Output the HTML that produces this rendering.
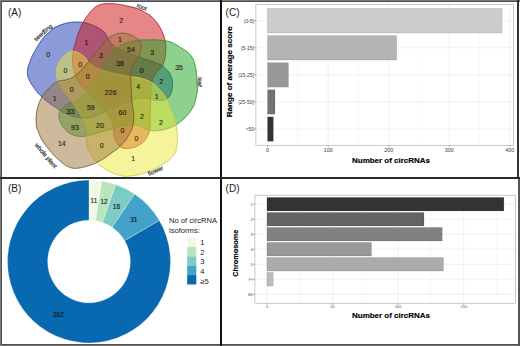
<!DOCTYPE html>
<html><head><meta charset="utf-8"><style>
html,body{margin:0;padding:0;background:#fff;}
body{width:520px;height:346px;overflow:hidden;}
svg{display:block;font-family:"Liberation Sans",sans-serif;}
.vn{font-size:7px;fill:#000;stroke:#000;stroke-width:0.12;opacity:0.82;text-anchor:middle;}
.vl{font-size:6px;fill:#444;stroke:#444;stroke-width:0.25;text-anchor:middle;}
.dl{font-size:6.4px;fill:#111;stroke:#111;stroke-width:0.1;text-anchor:middle;}
.pl{font-size:10px;fill:#1a1a1a;}
.lg{font-size:7.6px;fill:#222;}
.ttl{font-size:7.2px;font-weight:bold;fill:#000;stroke:#000;stroke-width:0.15;}
</style></head><body>
<svg width="520" height="346" viewBox="0 0 520 346">
<rect x="0" y="0" width="520" height="346" fill="#fff"/>
<!-- Panel A: Venn -->
<path d="M38.87,94.01 L38.31,93.42 L37.79,92.83 L37.30,92.25 L36.83,91.68 L36.38,91.11 L35.96,90.54 L35.54,89.98 L35.14,89.42 L34.75,88.87 L34.36,88.31 L33.98,87.76 L33.60,87.22 L33.22,86.67 L32.84,86.12 L32.47,85.58 L32.11,85.04 L31.76,84.50 L31.42,83.97 L31.09,83.44 L30.78,82.92 L30.47,82.40 L30.18,81.88 L29.91,81.37 L29.65,80.86 L29.40,80.37 L29.17,79.89 L28.95,79.42 L28.74,78.95 L28.54,78.49 L28.35,78.04 L28.19,77.58 L28.03,77.11 L27.89,76.64 L27.77,76.16 L27.67,75.66 L27.58,75.14 L27.52,74.60 L27.47,74.05 L27.44,73.48 L27.42,72.90 L27.42,72.31 L27.44,71.71 L27.47,71.11 L27.52,70.52 L27.57,69.92 L27.64,69.34 L27.72,68.76 L27.81,68.19 L27.92,67.64 L28.04,67.10 L28.18,66.56 L28.33,66.03 L28.49,65.51 L28.67,64.98 L28.85,64.46 L29.04,63.93 L29.24,63.40 L29.45,62.86 L29.66,62.31 L29.87,61.76 L30.08,61.19 L30.30,60.61 L30.53,60.03 L30.76,59.44 L31.01,58.84 L31.25,58.24 L31.51,57.64 L31.77,57.05 L32.03,56.45 L32.30,55.86 L32.58,55.27 L32.86,54.69 L33.15,54.12 L33.42,53.58 L33.70,53.05 L33.98,52.52 L34.27,52.00 L34.57,51.47 L34.88,50.94 L35.20,50.39 L35.54,49.81 L35.91,49.21 L36.29,48.58 L36.71,47.91 L37.16,47.18 L37.64,46.39 L38.15,45.56 L38.68,44.70 L39.23,43.81 L39.79,42.92 L40.37,42.02 L40.94,41.14 L41.51,40.29 L42.08,39.48 L42.63,38.72 L43.16,38.02 L43.69,37.38 L44.20,36.78 L44.72,36.21 L45.23,35.68 L45.74,35.17 L46.25,34.69 L46.75,34.22 L47.26,33.77 L47.76,33.32 L48.26,32.88 L48.77,32.44 L49.27,31.99 L49.76,31.55 L50.23,31.11 L50.68,30.69 L51.12,30.27 L51.56,29.86 L52.01,29.46 L52.47,29.07 L52.96,28.68 L53.47,28.30 L54.03,27.93 L54.63,27.56 L55.28,27.20 L56.00,26.83 L56.77,26.47 L57.59,26.11 L58.46,25.75 L59.35,25.40 L60.26,25.05 L61.19,24.72 L62.12,24.41 L63.04,24.11 L63.95,23.83 L64.84,23.57 L65.69,23.35 L66.52,23.14 L67.34,22.96 L68.15,22.80 L68.96,22.65 L69.77,22.53 L70.56,22.42 L71.36,22.32 L72.14,22.24 L72.93,22.18 L73.70,22.12 L74.48,22.08 L75.24,22.04 L76.01,22.02 L76.78,22.01 L77.55,22.02 L78.32,22.04 L79.08,22.07 L79.84,22.11 L80.58,22.17 L81.32,22.24 L82.03,22.31 L82.73,22.40 L83.41,22.49 L84.07,22.59 L84.70,22.70 L85.30,22.81 L85.87,22.94 L86.42,23.07 L86.96,23.21 L87.48,23.36 L88.00,23.53 L88.53,23.70 L89.06,23.89 L89.61,24.08 L90.17,24.29 L90.76,24.52 L91.38,24.75 L92.02,25.00 L92.68,25.26 L93.35,25.54 L94.02,25.82 L94.70,26.12 L95.38,26.42 L96.05,26.74 L96.71,27.06 L97.36,27.39 L97.98,27.73 L98.58,28.08 L99.17,28.43 L99.74,28.79 L100.31,29.15 L100.87,29.52 L101.41,29.89 L101.95,30.28 L102.47,30.68 L102.97,31.09 L103.46,31.52 L103.94,31.96 L104.39,32.42 L104.83,32.90 L105.23,33.40 L105.60,33.93 L105.93,34.48 L106.25,35.04 L106.54,35.63 L106.83,36.22 L107.11,36.82 L107.41,37.42 L107.72,38.02 L108.05,38.62 L108.41,39.21 L108.81,39.79 L109.23,40.36 L109.65,40.94 L110.08,41.52 L110.52,42.10 L110.97,42.68 L111.44,43.26 L111.94,43.84 L112.46,44.40 L113.02,44.96 L113.61,45.51 L114.25,46.04 L114.93,46.55 L115.64,47.05 L116.38,47.52 L117.15,47.98 L117.95,48.42 L118.78,48.85 L119.65,49.28 L120.55,49.71 L121.49,50.13 L122.47,50.57 L123.50,51.01 L124.58,51.47 L125.70,51.94 L126.89,52.44 L128.16,52.94 L129.49,53.46 L130.88,53.99 L132.31,54.52 L133.77,55.05 L135.24,55.59 L136.73,56.12 L138.20,56.65 L139.66,57.18 L141.09,57.69 L142.47,58.19 L143.85,58.69 L145.28,59.19 L146.73,59.69 L148.19,60.20 L149.64,60.70 L151.08,61.19 L152.47,61.67 L153.81,62.13 L155.07,62.58 L156.26,63.02 L157.34,63.43 L158.30,63.81 L159.13,64.15 L159.83,64.45 L160.43,64.71 L160.94,64.94 L161.38,65.16 L161.77,65.37 L162.12,65.59 L162.46,65.82 L162.80,66.07 L163.16,66.36 L163.56,66.70 L164.01,67.09 L164.51,67.52 L165.04,68.00 L165.57,68.50 L166.12,69.02 L166.67,69.58 L167.21,70.15 L167.74,70.74 L168.26,71.35 L168.75,71.98 L169.21,72.62 L169.63,73.26 L170.00,73.92 L170.34,74.59 L170.66,75.29 L170.94,76.01 L171.21,76.76 L171.44,77.52 L171.66,78.29 L171.85,79.06 L172.02,79.83 L172.16,80.60 L172.29,81.35 L172.39,82.09 L172.47,82.81 L172.53,83.52 L172.56,84.23 L172.57,84.93 L172.54,85.63 L172.50,86.33 L172.44,87.02 L172.36,87.70 L172.26,88.36 L172.15,89.01 L172.03,89.65 L171.91,90.26 L171.77,90.86 L171.63,91.43 L171.47,92.00 L171.31,92.56 L171.13,93.10 L170.94,93.63 L170.74,94.14 L170.52,94.63 L170.28,95.11 L170.03,95.56 L169.75,96.00 L169.46,96.41 L169.15,96.79 L168.83,97.15 L168.49,97.49 L168.13,97.81 L167.76,98.10 L167.38,98.37 L166.97,98.63 L166.55,98.86 L166.10,99.08 L165.63,99.28 L165.13,99.47 L164.61,99.64 L164.06,99.80 L163.47,99.94 L162.84,100.08 L162.18,100.19 L161.49,100.29 L160.78,100.37 L160.04,100.44 L159.30,100.49 L158.55,100.52 L157.79,100.52 L157.04,100.51 L156.30,100.47 L155.57,100.42 L154.85,100.32 L154.13,100.17 L153.42,99.98 L152.70,99.76 L151.98,99.52 L151.25,99.27 L150.52,99.02 L149.79,98.78 L149.06,98.56 L148.31,98.36 L147.56,98.21 L146.81,98.11 L146.04,98.04 L145.26,98.00 L144.46,97.98 L143.66,97.99 L142.85,98.01 L142.05,98.05 L141.24,98.10 L140.43,98.17 L139.64,98.26 L138.85,98.36 L138.07,98.47 L137.32,98.60 L136.61,98.72 L135.96,98.84 L135.37,98.97 L134.80,99.10 L134.23,99.25 L133.66,99.42 L133.05,99.62 L132.39,99.84 L131.65,100.11 L130.82,100.42 L129.87,100.78 L128.80,101.19 L127.55,101.68 L126.14,102.24 L124.60,102.86 L122.96,103.54 L121.24,104.25 L119.47,104.98 L117.70,105.73 L115.94,106.49 L114.22,107.22 L112.58,107.94 L111.04,108.61 L109.64,109.24 L108.36,109.83 L107.15,110.43 L106.01,111.02 L104.92,111.60 L103.87,112.17 L102.86,112.72 L101.88,113.25 L100.92,113.76 L99.97,114.24 L99.01,114.70 L98.05,115.12 L97.06,115.50 L96.08,115.86 L95.13,116.19 L94.19,116.49 L93.26,116.77 L92.35,117.03 L91.43,117.25 L90.52,117.45 L89.60,117.62 L88.67,117.76 L87.72,117.87 L86.75,117.95 L85.75,118.00 L84.71,118.01 L83.65,117.99 L82.56,117.93 L81.44,117.83 L80.32,117.71 L79.19,117.56 L78.07,117.39 L76.95,117.20 L75.85,116.98 L74.77,116.75 L73.72,116.51 L72.71,116.25 L71.72,115.97 L70.73,115.65 L69.74,115.29 L68.77,114.91 L67.81,114.52 L66.87,114.10 L65.96,113.69 L65.08,113.27 L64.24,112.85 L63.43,112.45 L62.67,112.07 L61.97,111.71 L61.34,111.38 L60.78,111.07 L60.30,110.78 L59.87,110.50 L59.47,110.23 L59.09,109.95 L58.72,109.67 L58.34,109.38 L57.93,109.07 L57.49,108.73 L56.98,108.36 L56.41,107.96 L55.77,107.52 L55.08,107.06 L54.36,106.57 L53.59,106.06 L52.81,105.53 L52.01,104.98 L51.19,104.43 L50.38,103.86 L49.57,103.28 L48.77,102.70 L47.99,102.12 L47.25,101.54 L46.51,100.94 L45.77,100.34 L45.02,99.71 L44.28,99.08 L43.54,98.44 L42.81,97.80 L42.10,97.15 L41.40,96.51 L40.72,95.87 L40.07,95.24 L39.45,94.62Z" fill="rgb(25,55,175)" fill-opacity="0.5" stroke="rgb(45,70,165)" stroke-width="1.0"/>
<path d="M82.90,22.60 L83.29,21.88 L83.68,21.20 L84.08,20.54 L84.48,19.91 L84.88,19.30 L85.28,18.71 L85.68,18.14 L86.09,17.58 L86.49,17.03 L86.90,16.48 L87.30,15.94 L87.70,15.40 L88.10,14.86 L88.50,14.33 L88.90,13.80 L89.30,13.29 L89.70,12.78 L90.10,12.29 L90.50,11.80 L90.90,11.33 L91.30,10.88 L91.70,10.43 L92.10,10.01 L92.50,9.60 L92.89,9.21 L93.28,8.83 L93.66,8.47 L94.03,8.12 L94.40,7.78 L94.78,7.46 L95.17,7.15 L95.56,6.86 L95.97,6.58 L96.39,6.31 L96.83,6.05 L97.30,5.80 L97.79,5.56 L98.31,5.34 L98.84,5.13 L99.39,4.93 L99.95,4.74 L100.53,4.57 L101.11,4.41 L101.69,4.26 L102.27,4.12 L102.86,4.00 L103.43,3.89 L104.00,3.80 L104.56,3.72 L105.12,3.67 L105.67,3.62 L106.23,3.60 L106.78,3.59 L107.34,3.59 L107.90,3.60 L108.46,3.61 L109.03,3.63 L109.61,3.65 L110.20,3.68 L110.80,3.70 L111.41,3.72 L112.03,3.75 L112.66,3.78 L113.30,3.81 L113.94,3.85 L114.59,3.90 L115.25,3.95 L115.90,4.01 L116.55,4.07 L117.21,4.14 L117.86,4.22 L118.50,4.30 L119.13,4.39 L119.74,4.48 L120.34,4.58 L120.93,4.68 L121.52,4.79 L122.11,4.90 L122.72,5.02 L123.35,5.16 L124.01,5.30 L124.70,5.45 L125.43,5.62 L126.20,5.80 L127.04,5.99 L127.94,6.20 L128.90,6.42 L129.89,6.66 L130.91,6.90 L131.95,7.15 L132.99,7.41 L134.01,7.68 L135.00,7.95 L135.96,8.23 L136.86,8.51 L137.70,8.80 L138.48,9.09 L139.22,9.39 L139.92,9.70 L140.59,10.02 L141.24,10.35 L141.86,10.67 L142.47,11.01 L143.06,11.34 L143.65,11.68 L144.23,12.02 L144.81,12.36 L145.40,12.70 L145.98,13.03 L146.55,13.33 L147.10,13.62 L147.64,13.91 L148.17,14.20 L148.69,14.50 L149.22,14.82 L149.74,15.16 L150.27,15.53 L150.80,15.94 L151.34,16.39 L151.90,16.90 L152.47,17.47 L153.07,18.09 L153.68,18.76 L154.30,19.47 L154.92,20.21 L155.54,20.97 L156.15,21.75 L156.75,22.53 L157.33,23.32 L157.88,24.10 L158.41,24.86 L158.90,25.60 L159.36,26.33 L159.80,27.05 L160.21,27.78 L160.61,28.50 L160.98,29.23 L161.34,29.96 L161.69,30.68 L162.01,31.41 L162.33,32.13 L162.63,32.86 L162.92,33.58 L163.20,34.30 L163.47,35.03 L163.72,35.76 L163.96,36.49 L164.19,37.23 L164.40,37.97 L164.60,38.71 L164.78,39.44 L164.96,40.16 L165.11,40.86 L165.26,41.56 L165.38,42.24 L165.50,42.90 L165.60,43.53 L165.68,44.14 L165.74,44.73 L165.79,45.29 L165.83,45.85 L165.85,46.40 L165.86,46.95 L165.86,47.51 L165.86,48.07 L165.84,48.66 L165.82,49.27 L165.80,49.90 L165.77,50.56 L165.74,51.25 L165.70,51.96 L165.65,52.69 L165.60,53.43 L165.53,54.17 L165.46,54.91 L165.37,55.66 L165.27,56.39 L165.16,57.11 L165.04,57.82 L164.90,58.50 L164.75,59.17 L164.60,59.83 L164.43,60.49 L164.26,61.14 L164.07,61.78 L163.88,62.41 L163.66,63.04 L163.43,63.65 L163.18,64.26 L162.91,64.85 L162.62,65.43 L162.30,66.00 L161.95,66.55 L161.56,67.06 L161.15,67.56 L160.70,68.04 L160.24,68.51 L159.77,68.97 L159.29,69.43 L158.81,69.91 L158.33,70.39 L157.87,70.90 L157.42,71.43 L157.00,72.00 L156.59,72.58 L156.17,73.17 L155.75,73.77 L155.34,74.37 L154.93,74.99 L154.53,75.62 L154.14,76.28 L153.76,76.96 L153.41,77.67 L153.08,78.41 L152.77,79.19 L152.50,80.00 L152.26,80.84 L152.04,81.70 L151.85,82.58 L151.69,83.48 L151.54,84.41 L151.41,85.38 L151.29,86.37 L151.18,87.41 L151.08,88.48 L150.99,89.61 L150.89,90.78 L150.80,92.00 L150.71,93.29 L150.63,94.67 L150.57,96.10 L150.51,97.60 L150.46,99.13 L150.41,100.69 L150.37,102.27 L150.34,103.86 L150.30,105.44 L150.27,106.99 L150.24,108.52 L150.20,110.00 L150.17,111.48 L150.14,113.00 L150.13,114.55 L150.11,116.10 L150.10,117.65 L150.09,119.17 L150.08,120.65 L150.06,122.08 L150.04,123.43 L150.00,124.70 L149.96,125.86 L149.90,126.90 L149.84,127.80 L149.78,128.57 L149.72,129.22 L149.66,129.79 L149.60,130.27 L149.52,130.71 L149.43,131.12 L149.31,131.51 L149.18,131.92 L149.02,132.36 L148.83,132.84 L148.60,133.40 L148.34,134.02 L148.06,134.67 L147.75,135.34 L147.43,136.03 L147.07,136.73 L146.70,137.43 L146.30,138.13 L145.89,138.81 L145.45,139.48 L144.98,140.12 L144.50,140.73 L144.00,141.30 L143.47,141.84 L142.90,142.36 L142.30,142.87 L141.67,143.36 L141.02,143.83 L140.36,144.28 L139.68,144.70 L139.00,145.11 L138.31,145.50 L137.63,145.86 L136.96,146.19 L136.30,146.50 L135.64,146.78 L134.98,147.04 L134.31,147.27 L133.63,147.47 L132.95,147.65 L132.28,147.81 L131.60,147.95 L130.94,148.07 L130.28,148.18 L129.64,148.27 L129.01,148.34 L128.40,148.40 L127.80,148.45 L127.21,148.48 L126.63,148.50 L126.06,148.51 L125.49,148.49 L124.94,148.46 L124.40,148.41 L123.87,148.34 L123.35,148.24 L122.85,148.12 L122.37,147.97 L121.90,147.80 L121.45,147.60 L121.02,147.39 L120.61,147.15 L120.21,146.89 L119.82,146.61 L119.45,146.31 L119.09,145.98 L118.74,145.62 L118.39,145.23 L118.06,144.82 L117.73,144.38 L117.40,143.90 L117.07,143.39 L116.75,142.83 L116.43,142.23 L116.11,141.61 L115.80,140.95 L115.51,140.28 L115.22,139.58 L114.96,138.87 L114.71,138.15 L114.48,137.43 L114.28,136.71 L114.10,136.00 L113.96,135.28 L113.88,134.55 L113.83,133.80 L113.81,133.05 L113.81,132.28 L113.81,131.51 L113.82,130.74 L113.81,129.96 L113.79,129.19 L113.74,128.42 L113.64,127.66 L113.50,126.90 L113.32,126.15 L113.10,125.39 L112.87,124.62 L112.61,123.86 L112.33,123.10 L112.04,122.34 L111.73,121.58 L111.40,120.84 L111.06,120.11 L110.72,119.39 L110.36,118.69 L110.00,118.00 L109.65,117.36 L109.33,116.79 L109.02,116.26 L108.71,115.76 L108.39,115.27 L108.04,114.78 L107.66,114.26 L107.23,113.70 L106.74,113.08 L106.18,112.38 L105.54,111.60 L104.80,110.70 L103.94,109.67 L102.95,108.50 L101.87,107.23 L100.70,105.88 L99.47,104.47 L98.20,103.02 L96.92,101.56 L95.64,100.12 L94.38,98.72 L93.18,97.38 L92.04,96.14 L91.00,95.00 L90.02,93.97 L89.07,93.00 L88.14,92.10 L87.24,91.24 L86.36,90.43 L85.51,89.64 L84.69,88.88 L83.90,88.12 L83.13,87.37 L82.39,86.60 L81.68,85.82 L81.00,85.00 L80.35,84.18 L79.73,83.37 L79.14,82.57 L78.57,81.78 L78.04,80.99 L77.53,80.19 L77.05,79.38 L76.59,78.56 L76.16,77.71 L75.75,76.84 L75.36,75.94 L75.00,75.00 L74.66,74.02 L74.34,72.99 L74.05,71.93 L73.78,70.84 L73.54,69.73 L73.32,68.61 L73.12,67.48 L72.95,66.35 L72.80,65.23 L72.68,64.13 L72.58,63.05 L72.50,62.00 L72.45,60.96 L72.44,59.91 L72.46,58.86 L72.51,57.81 L72.59,56.77 L72.68,55.74 L72.79,54.74 L72.91,53.77 L73.03,52.83 L73.16,51.93 L73.28,51.09 L73.40,50.30 L73.51,49.59 L73.63,48.97 L73.75,48.41 L73.88,47.91 L74.02,47.44 L74.16,46.99 L74.31,46.55 L74.46,46.09 L74.63,45.61 L74.81,45.07 L75.00,44.48 L75.20,43.80 L75.41,43.05 L75.64,42.24 L75.87,41.39 L76.11,40.50 L76.37,39.58 L76.63,38.64 L76.90,37.69 L77.19,36.73 L77.48,35.77 L77.78,34.83 L78.08,33.90 L78.40,33.00 L78.73,32.11 L79.07,31.21 L79.43,30.30 L79.79,29.39 L80.17,28.48 L80.55,27.58 L80.94,26.69 L81.33,25.81 L81.72,24.97 L82.12,24.14 L82.51,23.35Z" fill="rgb(205,15,15)" fill-opacity="0.5" stroke="rgb(165,40,60)" stroke-width="1.0"/>
<path d="M168.20,41.40 L168.98,41.60 L169.73,41.82 L170.45,42.05 L171.14,42.30 L171.80,42.56 L172.45,42.84 L173.08,43.13 L173.69,43.43 L174.28,43.73 L174.87,44.04 L175.45,44.36 L176.02,44.68 L176.60,45.00 L177.16,45.33 L177.72,45.66 L178.26,45.99 L178.80,46.33 L179.33,46.66 L179.86,46.99 L180.37,47.32 L180.88,47.65 L181.37,47.97 L181.86,48.29 L182.33,48.61 L182.80,48.91 L183.25,49.21 L183.70,49.49 L184.13,49.76 L184.56,50.03 L184.98,50.30 L185.39,50.57 L185.80,50.85 L186.21,51.13 L186.61,51.43 L187.02,51.75 L187.42,52.08 L187.83,52.43 L188.23,52.80 L188.64,53.19 L189.04,53.58 L189.43,53.99 L189.82,54.41 L190.20,54.84 L190.57,55.28 L190.93,55.72 L191.27,56.16 L191.59,56.60 L191.90,57.05 L192.18,57.50 L192.44,57.95 L192.68,58.41 L192.91,58.88 L193.12,59.35 L193.31,59.84 L193.50,60.33 L193.68,60.84 L193.85,61.35 L194.02,61.88 L194.19,62.42 L194.36,62.97 L194.53,63.53 L194.70,64.11 L194.87,64.71 L195.03,65.31 L195.19,65.93 L195.34,66.55 L195.49,67.18 L195.63,67.82 L195.76,68.46 L195.89,69.10 L196.00,69.74 L196.11,70.38 L196.21,71.01 L196.30,71.62 L196.38,72.23 L196.45,72.82 L196.52,73.42 L196.58,74.03 L196.63,74.65 L196.69,75.29 L196.74,75.97 L196.79,76.67 L196.84,77.42 L196.88,78.22 L196.94,79.09 L196.99,80.02 L197.06,81.00 L197.12,82.03 L197.18,83.08 L197.23,84.15 L197.28,85.23 L197.31,86.29 L197.33,87.33 L197.34,88.33 L197.32,89.28 L197.29,90.17 L197.23,91.01 L197.15,91.80 L197.05,92.57 L196.94,93.31 L196.81,94.03 L196.67,94.72 L196.52,95.40 L196.37,96.07 L196.21,96.73 L196.05,97.39 L195.89,98.05 L195.73,98.71 L195.59,99.37 L195.45,100.00 L195.33,100.62 L195.21,101.22 L195.08,101.81 L194.94,102.41 L194.79,103.00 L194.61,103.60 L194.40,104.22 L194.16,104.85 L193.88,105.50 L193.54,106.18 L193.16,106.90 L192.73,107.65 L192.26,108.43 L191.76,109.23 L191.22,110.04 L190.66,110.86 L190.09,111.67 L189.50,112.47 L188.91,113.26 L188.32,114.02 L187.73,114.74 L187.16,115.43 L186.59,116.08 L186.02,116.71 L185.44,117.32 L184.85,117.91 L184.26,118.48 L183.66,119.03 L183.06,119.57 L182.45,120.10 L181.85,120.61 L181.23,121.10 L180.62,121.59 L180.00,122.07 L179.38,122.53 L178.75,122.99 L178.11,123.43 L177.46,123.86 L176.81,124.28 L176.16,124.68 L175.51,125.07 L174.86,125.44 L174.22,125.79 L173.59,126.13 L172.97,126.45 L172.37,126.75 L171.79,127.03 L171.23,127.28 L170.68,127.51 L170.15,127.72 L169.62,127.91 L169.10,128.09 L168.57,128.26 L168.03,128.42 L167.48,128.58 L166.92,128.73 L166.32,128.89 L165.71,129.04 L165.06,129.21 L164.38,129.37 L163.69,129.54 L162.97,129.70 L162.25,129.86 L161.51,130.01 L160.77,130.15 L160.03,130.28 L159.30,130.40 L158.57,130.50 L157.85,130.58 L157.16,130.64 L156.47,130.69 L155.79,130.73 L155.11,130.76 L154.43,130.78 L153.76,130.78 L153.09,130.77 L152.43,130.75 L151.77,130.70 L151.11,130.63 L150.46,130.54 L149.82,130.43 L149.18,130.28 L148.55,130.10 L147.94,129.88 L147.35,129.62 L146.76,129.33 L146.17,129.02 L145.59,128.69 L145.00,128.36 L144.41,128.04 L143.80,127.72 L143.18,127.41 L142.54,127.14 L141.87,126.89 L141.19,126.66 L140.51,126.43 L139.81,126.20 L139.11,125.97 L138.40,125.75 L137.67,125.54 L136.92,125.36 L136.16,125.19 L135.38,125.05 L134.57,124.95 L133.73,124.88 L132.87,124.85 L131.99,124.85 L131.10,124.89 L130.20,124.96 L129.28,125.06 L128.34,125.18 L127.37,125.33 L126.38,125.50 L125.35,125.70 L124.28,125.91 L123.17,126.14 L122.02,126.39 L120.81,126.64 L119.54,126.93 L118.19,127.25 L116.79,127.59 L115.33,127.97 L113.84,128.36 L112.32,128.76 L110.78,129.18 L109.24,129.60 L107.71,130.02 L106.20,130.43 L104.72,130.83 L103.28,131.22 L101.85,131.62 L100.37,132.03 L98.88,132.46 L97.38,132.89 L95.88,133.32 L94.41,133.75 L92.98,134.16 L91.60,134.55 L90.28,134.92 L89.05,135.25 L87.92,135.54 L86.90,135.78 L86.01,135.98 L85.26,136.14 L84.61,136.27 L84.05,136.38 L83.56,136.45 L83.12,136.50 L82.70,136.53 L82.28,136.54 L81.85,136.52 L81.39,136.49 L80.86,136.45 L80.26,136.39 L79.59,136.32 L78.88,136.23 L78.15,136.13 L77.39,136.01 L76.61,135.87 L75.83,135.71 L75.04,135.53 L74.26,135.32 L73.49,135.09 L72.74,134.83 L72.02,134.54 L71.32,134.21 L70.65,133.86 L69.99,133.46 L69.33,133.02 L68.67,132.56 L68.04,132.07 L67.41,131.55 L66.80,131.02 L66.22,130.48 L65.65,129.93 L65.11,129.38 L64.59,128.83 L64.10,128.28 L63.64,127.73 L63.21,127.16 L62.79,126.58 L62.40,125.98 L62.03,125.38 L61.68,124.77 L61.36,124.17 L61.05,123.56 L60.76,122.96 L60.49,122.36 L60.24,121.78 L60.01,121.21 L59.79,120.64 L59.59,120.09 L59.40,119.53 L59.23,118.98 L59.08,118.43 L58.96,117.89 L58.85,117.35 L58.77,116.82 L58.71,116.29 L58.69,115.78 L58.69,115.27 L58.72,114.77 L58.78,114.28 L58.87,113.80 L58.98,113.33 L59.11,112.87 L59.27,112.42 L59.46,111.98 L59.68,111.53 L59.92,111.09 L60.19,110.65 L60.50,110.21 L60.83,109.76 L61.19,109.31 L61.60,108.85 L62.04,108.38 L62.52,107.89 L63.04,107.41 L63.58,106.93 L64.15,106.45 L64.74,105.97 L65.34,105.51 L65.96,105.07 L66.59,104.64 L67.23,104.24 L67.87,103.86 L68.52,103.53 L69.20,103.23 L69.91,102.97 L70.63,102.74 L71.37,102.51 L72.11,102.30 L72.86,102.09 L73.61,101.86 L74.35,101.61 L75.07,101.34 L75.78,101.03 L76.47,100.68 L77.14,100.28 L77.82,99.86 L78.48,99.42 L79.15,98.95 L79.80,98.46 L80.45,97.96 L81.09,97.44 L81.71,96.92 L82.32,96.38 L82.92,95.84 L83.49,95.30 L84.05,94.75 L84.56,94.24 L85.03,93.76 L85.45,93.31 L85.84,92.87 L86.22,92.42 L86.60,91.94 L86.99,91.43 L87.41,90.85 L87.86,90.20 L88.37,89.46 L88.94,88.62 L89.60,87.65 L90.35,86.52 L91.19,85.24 L92.10,83.82 L93.07,82.31 L94.08,80.72 L95.11,79.08 L96.15,77.43 L97.17,75.78 L98.16,74.17 L99.11,72.63 L99.99,71.17 L100.78,69.84 L101.50,68.60 L102.15,67.40 L102.76,66.25 L103.33,65.14 L103.86,64.06 L104.38,63.01 L104.88,62.00 L105.38,61.02 L105.89,60.06 L106.42,59.13 L106.97,58.22 L107.56,57.33 L108.17,56.47 L108.77,55.64 L109.37,54.84 L109.97,54.07 L110.58,53.33 L111.21,52.61 L111.85,51.91 L112.51,51.24 L113.20,50.58 L113.92,49.93 L114.68,49.30 L115.48,48.68 L116.33,48.07 L117.23,47.47 L118.17,46.88 L119.15,46.31 L120.15,45.76 L121.17,45.23 L122.20,44.72 L123.24,44.23 L124.28,43.76 L125.30,43.33 L126.32,42.92 L127.30,42.54 L128.29,42.20 L129.30,41.89 L130.32,41.61 L131.35,41.36 L132.37,41.13 L133.39,40.93 L134.39,40.74 L135.36,40.58 L136.30,40.43 L137.20,40.30 L138.05,40.17 L138.84,40.06 L139.56,39.97 L140.20,39.90 L140.77,39.86 L141.29,39.84 L141.78,39.83 L142.25,39.84 L142.72,39.86 L143.20,39.88 L143.72,39.90 L144.29,39.92 L144.92,39.93 L145.63,39.93 L146.41,39.92 L147.25,39.91 L148.14,39.89 L149.07,39.87 L150.03,39.85 L151.01,39.84 L152.01,39.82 L153.01,39.82 L154.02,39.83 L155.02,39.85 L156.00,39.88 L156.96,39.93 L157.91,39.99 L158.88,40.06 L159.85,40.14 L160.84,40.24 L161.82,40.34 L162.79,40.46 L163.76,40.59 L164.70,40.73 L165.62,40.88 L166.52,41.04 L167.38,41.21Z" fill="rgb(29,161,29)" fill-opacity="0.5" stroke="rgb(50,145,55)" stroke-width="1.0"/>
<path d="M176.99,130.47 L177.10,131.28 L177.19,132.08 L177.26,132.85 L177.31,133.60 L177.34,134.34 L177.36,135.06 L177.38,135.77 L177.38,136.46 L177.38,137.15 L177.37,137.84 L177.37,138.52 L177.36,139.20 L177.35,139.88 L177.35,140.55 L177.33,141.22 L177.31,141.88 L177.29,142.53 L177.25,143.17 L177.22,143.80 L177.17,144.42 L177.11,145.04 L177.05,145.63 L176.98,146.22 L176.89,146.79 L176.81,147.35 L176.72,147.88 L176.63,148.40 L176.53,148.91 L176.42,149.41 L176.30,149.89 L176.17,150.37 L176.03,150.85 L175.86,151.32 L175.68,151.79 L175.47,152.27 L175.24,152.75 L174.98,153.23 L174.69,153.72 L174.38,154.21 L174.05,154.70 L173.70,155.19 L173.34,155.67 L172.96,156.15 L172.57,156.62 L172.18,157.08 L171.77,157.52 L171.37,157.95 L170.96,158.37 L170.55,158.77 L170.13,159.14 L169.70,159.51 L169.26,159.86 L168.82,160.20 L168.36,160.53 L167.90,160.86 L167.43,161.18 L166.95,161.50 L166.46,161.83 L165.97,162.16 L165.47,162.50 L164.96,162.84 L164.43,163.19 L163.90,163.54 L163.36,163.89 L162.81,164.24 L162.25,164.59 L161.69,164.94 L161.12,165.28 L160.55,165.62 L159.98,165.95 L159.40,166.27 L158.83,166.59 L158.26,166.89 L157.71,167.18 L157.16,167.46 L156.62,167.72 L156.08,167.99 L155.52,168.25 L154.95,168.51 L154.36,168.78 L153.74,169.05 L153.08,169.34 L152.39,169.63 L151.65,169.95 L150.85,170.29 L149.99,170.65 L149.08,171.04 L148.12,171.45 L147.15,171.86 L146.15,172.27 L145.15,172.67 L144.16,173.06 L143.18,173.43 L142.24,173.77 L141.33,174.08 L140.48,174.34 L139.67,174.57 L138.88,174.76 L138.13,174.92 L137.39,175.07 L136.67,175.19 L135.96,175.29 L135.27,175.38 L134.58,175.46 L133.91,175.53 L133.23,175.60 L132.55,175.67 L131.87,175.74 L131.20,175.82 L130.56,175.91 L129.93,176.00 L129.32,176.08 L128.72,176.16 L128.11,176.23 L127.50,176.29 L126.87,176.32 L126.21,176.33 L125.54,176.31 L124.82,176.27 L124.07,176.18 L123.26,176.06 L122.40,175.91 L121.51,175.72 L120.58,175.51 L119.63,175.28 L118.67,175.02 L117.71,174.75 L116.76,174.47 L115.81,174.17 L114.90,173.87 L114.01,173.56 L113.17,173.25 L112.37,172.93 L111.58,172.59 L110.81,172.25 L110.05,171.89 L109.31,171.52 L108.59,171.14 L107.88,170.76 L107.18,170.36 L106.49,169.95 L105.81,169.54 L105.14,169.13 L104.49,168.70 L103.84,168.27 L103.19,167.82 L102.56,167.37 L101.93,166.90 L101.32,166.42 L100.72,165.94 L100.14,165.45 L99.57,164.97 L99.02,164.48 L98.49,164.00 L97.98,163.52 L97.49,163.05 L97.03,162.59 L96.61,162.15 L96.21,161.71 L95.83,161.27 L95.47,160.84 L95.12,160.40 L94.79,159.96 L94.45,159.51 L94.12,159.04 L93.78,158.55 L93.44,158.05 L93.08,157.52 L92.71,156.96 L92.33,156.38 L91.94,155.77 L91.54,155.15 L91.15,154.52 L90.76,153.87 L90.38,153.22 L90.01,152.56 L89.65,151.91 L89.31,151.25 L88.99,150.60 L88.70,149.96 L88.42,149.33 L88.15,148.69 L87.90,148.06 L87.65,147.43 L87.42,146.79 L87.21,146.16 L87.01,145.52 L86.83,144.88 L86.68,144.24 L86.54,143.59 L86.44,142.94 L86.36,142.29 L86.32,141.64 L86.33,140.99 L86.37,140.33 L86.45,139.68 L86.55,139.02 L86.66,138.36 L86.77,137.70 L86.88,137.02 L86.98,136.34 L87.06,135.65 L87.10,134.95 L87.11,134.24 L87.10,133.52 L87.09,132.79 L87.08,132.06 L87.06,131.32 L87.03,130.57 L86.98,129.81 L86.90,129.04 L86.80,128.26 L86.67,127.47 L86.50,126.67 L86.29,125.86 L86.03,125.03 L85.72,124.20 L85.39,123.37 L85.02,122.54 L84.62,121.71 L84.19,120.86 L83.72,119.99 L83.22,119.11 L82.69,118.20 L82.13,117.26 L81.54,116.29 L80.92,115.28 L80.27,114.23 L79.58,113.12 L78.82,111.95 L78.02,110.74 L77.18,109.48 L76.31,108.20 L75.41,106.90 L74.51,105.59 L73.59,104.27 L72.68,102.96 L71.78,101.67 L70.90,100.41 L70.05,99.18 L69.20,97.95 L68.31,96.69 L67.40,95.42 L66.49,94.15 L65.58,92.88 L64.68,91.63 L63.81,90.41 L62.97,89.24 L62.19,88.12 L61.46,87.06 L60.81,86.09 L60.24,85.20 L59.75,84.43 L59.34,83.77 L59.00,83.20 L58.71,82.71 L58.48,82.27 L58.28,81.86 L58.11,81.48 L57.97,81.09 L57.84,80.68 L57.71,80.23 L57.58,79.71 L57.43,79.12 L57.27,78.47 L57.12,77.77 L56.97,77.04 L56.82,76.28 L56.70,75.50 L56.58,74.70 L56.49,73.90 L56.42,73.09 L56.39,72.28 L56.38,71.48 L56.41,70.70 L56.48,69.94 L56.60,69.18 L56.75,68.42 L56.94,67.65 L57.16,66.87 L57.41,66.10 L57.69,65.34 L57.99,64.59 L58.30,63.85 L58.63,63.13 L58.97,62.43 L59.32,61.76 L59.68,61.11 L60.04,60.49 L60.43,59.89 L60.85,59.30 L61.28,58.73 L61.72,58.18 L62.18,57.65 L62.64,57.13 L63.12,56.64 L63.59,56.16 L64.06,55.71 L64.53,55.27 L64.99,54.86 L65.45,54.47 L65.91,54.09 L66.38,53.72 L66.84,53.38 L67.31,53.05 L67.78,52.75 L68.26,52.47 L68.73,52.21 L69.21,51.99 L69.69,51.79 L70.17,51.62 L70.66,51.48 L71.14,51.37 L71.62,51.29 L72.10,51.24 L72.58,51.21 L73.06,51.22 L73.54,51.24 L74.04,51.30 L74.54,51.38 L75.04,51.49 L75.57,51.63 L76.10,51.79 L76.65,51.99 L77.22,52.21 L77.82,52.47 L78.43,52.77 L79.07,53.09 L79.71,53.44 L80.35,53.82 L81.00,54.22 L81.64,54.64 L82.27,55.08 L82.88,55.53 L83.48,55.99 L84.04,56.47 L84.58,56.98 L85.09,57.52 L85.57,58.10 L86.04,58.71 L86.50,59.33 L86.95,59.96 L87.40,60.60 L87.87,61.23 L88.35,61.85 L88.85,62.44 L89.38,63.01 L89.95,63.54 L90.55,64.05 L91.17,64.54 L91.82,65.02 L92.48,65.50 L93.17,65.95 L93.86,66.40 L94.56,66.82 L95.27,67.24 L95.98,67.64 L96.69,68.02 L97.40,68.38 L98.10,68.72 L98.76,69.04 L99.37,69.32 L99.94,69.56 L100.49,69.79 L101.04,69.99 L101.62,70.19 L102.24,70.39 L102.92,70.59 L103.69,70.80 L104.56,71.04 L105.55,71.30 L106.69,71.59 L108.01,71.92 L109.51,72.28 L111.15,72.67 L112.91,73.08 L114.75,73.50 L116.65,73.93 L118.56,74.35 L120.47,74.77 L122.32,75.17 L124.10,75.54 L125.77,75.89 L127.30,76.19 L128.71,76.45 L130.06,76.67 L131.36,76.86 L132.60,77.02 L133.80,77.16 L134.96,77.30 L136.09,77.43 L137.19,77.58 L138.26,77.74 L139.32,77.92 L140.37,78.14 L141.41,78.40 L142.43,78.69 L143.42,78.98 L144.38,79.28 L145.31,79.59 L146.22,79.92 L147.11,80.27 L147.98,80.64 L148.84,81.04 L149.70,81.47 L150.55,81.94 L151.40,82.45 L152.26,82.99 L153.12,83.59 L153.99,84.24 L154.86,84.93 L155.73,85.66 L156.59,86.43 L157.44,87.21 L158.27,88.02 L159.08,88.84 L159.87,89.66 L160.62,90.49 L161.35,91.31 L162.04,92.12 L162.69,92.94 L163.32,93.79 L163.93,94.66 L164.52,95.55 L165.08,96.44 L165.61,97.33 L166.12,98.22 L166.60,99.08 L167.06,99.92 L167.49,100.73 L167.89,101.49 L168.26,102.20 L168.59,102.85 L168.87,103.43 L169.10,103.96 L169.30,104.44 L169.46,104.90 L169.61,105.35 L169.76,105.80 L169.90,106.27 L170.05,106.77 L170.23,107.31 L170.43,107.91 L170.66,108.58 L170.94,109.32 L171.23,110.11 L171.55,110.94 L171.88,111.82 L172.22,112.72 L172.56,113.64 L172.91,114.58 L173.25,115.53 L173.58,116.49 L173.90,117.44 L174.20,118.38 L174.48,119.30 L174.74,120.22 L175.00,121.16 L175.25,122.12 L175.49,123.08 L175.73,124.04 L175.95,125.01 L176.16,125.96 L176.36,126.91 L176.55,127.84 L176.71,128.74 L176.86,129.62Z" fill="rgb(235,231,55)" fill-opacity="0.5" stroke="rgb(210,205,75)" stroke-width="1.0"/>
<path d="M94.04,163.76 L93.29,164.09 L92.57,164.38 L91.85,164.65 L91.15,164.90 L90.47,165.14 L89.79,165.35 L89.12,165.55 L88.46,165.75 L87.81,165.93 L87.16,166.11 L86.51,166.29 L85.87,166.47 L85.23,166.64 L84.59,166.81 L83.95,166.98 L83.32,167.14 L82.70,167.29 L82.08,167.43 L81.47,167.57 L80.87,167.69 L80.28,167.81 L79.70,167.91 L79.12,168.00 L78.56,168.07 L78.01,168.14 L77.48,168.20 L76.96,168.25 L76.45,168.29 L75.95,168.33 L75.46,168.35 L74.97,168.35 L74.48,168.34 L73.99,168.32 L73.49,168.27 L72.99,168.20 L72.47,168.11 L71.94,167.99 L71.40,167.85 L70.86,167.69 L70.30,167.51 L69.75,167.31 L69.19,167.10 L68.64,166.87 L68.09,166.63 L67.55,166.38 L67.02,166.12 L66.50,165.85 L66.00,165.57 L65.51,165.29 L65.04,165.00 L64.58,164.69 L64.13,164.37 L63.69,164.04 L63.25,163.70 L62.82,163.35 L62.39,162.99 L61.95,162.62 L61.51,162.25 L61.07,161.87 L60.61,161.49 L60.15,161.10 L59.68,160.70 L59.20,160.29 L58.72,159.87 L58.24,159.44 L57.76,159.01 L57.28,158.57 L56.80,158.13 L56.33,157.68 L55.86,157.22 L55.40,156.77 L54.95,156.31 L54.51,155.85 L54.09,155.41 L53.68,154.97 L53.28,154.53 L52.88,154.08 L52.48,153.63 L52.08,153.16 L51.67,152.67 L51.24,152.15 L50.80,151.61 L50.33,151.03 L49.83,150.42 L49.30,149.75 L48.72,149.04 L48.10,148.28 L47.46,147.49 L46.81,146.67 L46.15,145.84 L45.50,145.00 L44.87,144.17 L44.25,143.34 L43.68,142.54 L43.14,141.76 L42.66,141.03 L42.23,140.32 L41.84,139.63 L41.48,138.96 L41.14,138.30 L40.84,137.65 L40.55,137.01 L40.28,136.38 L40.02,135.75 L39.77,135.13 L39.52,134.51 L39.27,133.88 L39.02,133.26 L38.76,132.65 L38.50,132.06 L38.25,131.50 L38.01,130.94 L37.77,130.39 L37.54,129.83 L37.32,129.27 L37.12,128.68 L36.93,128.07 L36.77,127.42 L36.62,126.73 L36.50,125.99 L36.39,125.19 L36.31,124.34 L36.24,123.45 L36.19,122.51 L36.16,121.55 L36.14,120.58 L36.13,119.59 L36.15,118.61 L36.17,117.64 L36.21,116.69 L36.27,115.77 L36.34,114.89 L36.42,114.04 L36.52,113.20 L36.64,112.38 L36.78,111.57 L36.93,110.77 L37.09,109.98 L37.27,109.20 L37.45,108.43 L37.65,107.67 L37.86,106.92 L38.07,106.18 L38.29,105.44 L38.53,104.71 L38.78,103.98 L39.04,103.26 L39.32,102.54 L39.60,101.83 L39.90,101.13 L40.20,100.45 L40.50,99.78 L40.82,99.13 L41.13,98.50 L41.44,97.89 L41.76,97.30 L42.07,96.74 L42.38,96.22 L42.68,95.72 L42.99,95.24 L43.31,94.79 L43.63,94.34 L43.95,93.90 L44.29,93.47 L44.65,93.03 L45.01,92.58 L45.40,92.11 L45.81,91.63 L46.24,91.13 L46.68,90.61 L47.15,90.08 L47.63,89.54 L48.13,88.99 L48.63,88.45 L49.15,87.91 L49.67,87.38 L50.19,86.87 L50.72,86.37 L51.25,85.89 L51.78,85.44 L52.30,85.01 L52.83,84.59 L53.36,84.17 L53.89,83.77 L54.43,83.38 L54.98,83.01 L55.53,82.65 L56.08,82.31 L56.65,81.99 L57.22,81.69 L57.81,81.41 L58.41,81.16 L59.01,80.95 L59.63,80.78 L60.26,80.65 L60.90,80.54 L61.55,80.46 L62.21,80.38 L62.87,80.31 L63.53,80.24 L64.20,80.15 L64.88,80.03 L65.55,79.89 L66.23,79.71 L66.91,79.50 L67.60,79.29 L68.29,79.09 L68.98,78.87 L69.68,78.63 L70.39,78.38 L71.09,78.10 L71.80,77.80 L72.51,77.46 L73.23,77.08 L73.94,76.66 L74.65,76.19 L75.36,75.68 L76.05,75.14 L76.74,74.57 L77.42,73.96 L78.11,73.33 L78.80,72.65 L79.50,71.94 L80.22,71.20 L80.96,70.41 L81.72,69.59 L82.51,68.73 L83.33,67.83 L84.19,66.87 L85.09,65.85 L86.03,64.76 L86.98,63.63 L87.96,62.46 L88.96,61.26 L89.95,60.05 L90.95,58.83 L91.94,57.61 L92.92,56.41 L93.88,55.24 L94.82,54.10 L95.75,52.96 L96.70,51.78 L97.66,50.58 L98.62,49.37 L99.57,48.17 L100.51,46.98 L101.43,45.83 L102.32,44.72 L103.17,43.68 L103.97,42.71 L104.72,41.82 L105.40,41.04 L106.00,40.38 L106.52,39.81 L106.96,39.33 L107.35,38.93 L107.70,38.59 L108.03,38.29 L108.35,38.03 L108.68,37.79 L109.04,37.55 L109.43,37.31 L109.88,37.05 L110.40,36.75 L110.98,36.42 L111.60,36.09 L112.25,35.75 L112.93,35.41 L113.63,35.08 L114.35,34.75 L115.09,34.45 L115.84,34.17 L116.59,33.92 L117.34,33.70 L118.09,33.51 L118.84,33.38 L119.58,33.28 L120.35,33.22 L121.13,33.19 L121.92,33.19 L122.72,33.22 L123.51,33.28 L124.30,33.35 L125.09,33.45 L125.86,33.57 L126.61,33.71 L127.35,33.86 L128.05,34.02 L128.74,34.20 L129.41,34.40 L130.08,34.64 L130.74,34.89 L131.38,35.16 L132.01,35.45 L132.62,35.75 L133.22,36.07 L133.79,36.39 L134.35,36.71 L134.89,37.04 L135.40,37.36 L135.90,37.69 L136.38,38.03 L136.85,38.37 L137.31,38.72 L137.74,39.07 L138.15,39.43 L138.55,39.81 L138.92,40.19 L139.26,40.58 L139.58,40.98 L139.87,41.39 L140.13,41.81 L140.36,42.24 L140.56,42.67 L140.74,43.11 L140.90,43.56 L141.03,44.02 L141.13,44.48 L141.21,44.96 L141.27,45.46 L141.30,45.97 L141.31,46.50 L141.30,47.05 L141.27,47.62 L141.21,48.23 L141.12,48.86 L141.01,49.52 L140.87,50.21 L140.71,50.91 L140.53,51.62 L140.33,52.34 L140.10,53.06 L139.86,53.77 L139.59,54.48 L139.31,55.16 L139.01,55.83 L138.68,56.48 L138.30,57.10 L137.88,57.72 L137.44,58.32 L136.97,58.92 L136.49,59.52 L136.01,60.13 L135.54,60.74 L135.09,61.36 L134.66,61.99 L134.26,62.65 L133.91,63.33 L133.60,64.03 L133.30,64.76 L133.01,65.50 L132.75,66.25 L132.50,67.02 L132.27,67.80 L132.05,68.58 L131.85,69.36 L131.67,70.14 L131.50,70.92 L131.34,71.68 L131.21,72.44 L131.09,73.15 L130.99,73.80 L130.91,74.40 L130.85,74.99 L130.80,75.57 L130.77,76.17 L130.75,76.81 L130.74,77.51 L130.74,78.29 L130.76,79.18 L130.78,80.19 L130.81,81.34 L130.85,82.68 L130.91,84.19 L130.99,85.86 L131.07,87.63 L131.17,89.49 L131.28,91.40 L131.39,93.33 L131.51,95.24 L131.64,97.10 L131.76,98.89 L131.89,100.56 L132.01,102.09 L132.15,103.50 L132.30,104.84 L132.48,106.11 L132.66,107.34 L132.85,108.51 L133.03,109.65 L133.21,110.75 L133.37,111.83 L133.50,112.89 L133.61,113.94 L133.69,114.99 L133.72,116.05 L133.73,117.09 L133.72,118.10 L133.70,119.09 L133.65,120.05 L133.59,121.00 L133.49,121.94 L133.38,122.87 L133.23,123.79 L133.05,124.72 L132.84,125.65 L132.59,126.59 L132.30,127.55 L131.97,128.53 L131.59,129.53 L131.17,130.54 L130.71,131.56 L130.22,132.57 L129.70,133.59 L129.17,134.59 L128.61,135.58 L128.04,136.55 L127.46,137.49 L126.88,138.40 L126.30,139.27 L125.70,140.11 L125.07,140.93 L124.41,141.75 L123.73,142.54 L123.03,143.31 L122.33,144.06 L121.63,144.78 L120.94,145.47 L120.27,146.12 L119.62,146.75 L119.01,147.33 L118.44,147.88 L117.91,148.37 L117.44,148.78 L117.00,149.14 L116.59,149.46 L116.20,149.74 L115.82,150.01 L115.43,150.26 L115.03,150.53 L114.60,150.80 L114.13,151.11 L113.62,151.46 L113.05,151.87 L112.42,152.33 L111.75,152.82 L111.05,153.34 L110.31,153.89 L109.55,154.46 L108.77,155.03 L107.97,155.61 L107.16,156.19 L106.35,156.77 L105.54,157.32 L104.73,157.86 L103.93,158.37 L103.13,158.87 L102.30,159.37 L101.47,159.86 L100.62,160.35 L99.77,160.83 L98.92,161.31 L98.07,161.76 L97.23,162.21 L96.41,162.63 L95.59,163.03 L94.80,163.41Z" fill="rgb(155,115,55)" fill-opacity="0.5" stroke="rgb(120,90,55)" stroke-width="1.0"/>
<text x="121.3" y="23.2" class="vn">2</text>
<text x="86.4" y="44.6" class="vn">1</text>
<text x="48.2" y="56.5" class="vn">0</text>
<text x="120.0" y="42.0" class="vn">1</text>
<text x="131.0" y="51.5" class="vn">54</text>
<text x="101.0" y="57.5" class="vn">3</text>
<text x="152.3" y="55.0" class="vn">3</text>
<text x="120.0" y="65.5" class="vn">38</text>
<text x="141.7" y="73.4" class="vn">0</text>
<text x="179.1" y="69.5" class="vn">35</text>
<text x="161.2" y="83.9" class="vn">2</text>
<text x="65.5" y="73.2" class="vn">0</text>
<text x="80.3" y="66.7" class="vn">0</text>
<text x="87.8" y="79.4" class="vn">0</text>
<text x="71.7" y="91.9" class="vn">0</text>
<text x="110.7" y="94.5" class="vn">226</text>
<text x="138.1" y="89.3" class="vn">4</text>
<text x="156.7" y="98.8" class="vn">1</text>
<text x="54.7" y="101.4" class="vn">1</text>
<text x="70.5" y="114.1" class="vn">33</text>
<text x="90.8" y="109.8" class="vn">59</text>
<text x="122.4" y="114.9" class="vn">60</text>
<text x="142.0" y="118.5" class="vn">2</text>
<text x="161.0" y="124.5" class="vn">2</text>
<text x="75.0" y="130.2" class="vn">93</text>
<text x="100.0" y="128.1" class="vn">20</text>
<text x="122.4" y="133.2" class="vn">0</text>
<text x="136.4" y="140.8" class="vn">0</text>
<text x="61.8" y="145.9" class="vn">14</text>
<text x="101.8" y="147.7" class="vn">0</text>
<text x="133.1" y="160.5" class="vn">1</text>
<text x="0" y="0" class="vl" transform="translate(43.0,32.6) rotate(-41.5)" dy="2">seedling</text>
<text x="0" y="0" class="vl" transform="translate(141.7,7.0) rotate(22.0)" dy="2">root</text>
<text x="0" y="0" class="vl" transform="translate(200.4,82.0) rotate(90.0)" dy="2">leaf</text>
<text x="0" y="0" class="vl" transform="translate(155.5,170.8) rotate(-24.0)" dy="2">flower</text>
<text x="0" y="0" class="vl" transform="translate(45.9,155.6) rotate(49.5)" dy="2">whole plant</text>
<text x="8" y="15.9" class="pl">(A)</text>
<!-- Panel B: donut -->
<path d="M89.00,180.00 A81.50,81.50 0 0 1 101.92,181.03 L95.55,220.72 A41.30,41.30 0 0 0 89.00,220.20 Z" fill="#f0f9e8" stroke="#fff" stroke-width="0.3"/>
<text x="93.9" y="202.5" class="dl">11</text>
<path d="M101.92,181.03 A81.50,81.50 0 0 1 115.64,184.48 L102.50,222.47 A41.30,41.30 0 0 0 95.55,220.72 Z" fill="#bae4bc" stroke="#fff" stroke-width="0.3"/>
<text x="104.0" y="204.2" class="dl">12</text>
<path d="M115.64,184.48 A81.50,81.50 0 0 1 134.59,193.94 L112.10,227.26 A41.30,41.30 0 0 0 102.50,222.47 Z" fill="#7bccc4" stroke="#fff" stroke-width="0.3"/>
<text x="116.4" y="208.8" class="dl">18</text>
<path d="M134.59,193.94 A81.50,81.50 0 0 1 159.38,220.41 L124.67,240.68 A41.30,41.30 0 0 0 112.10,227.26 Z" fill="#43a2ca" stroke="#fff" stroke-width="0.3"/>
<text x="133.8" y="221.7" class="dl">31</text>
<path d="M159.38,220.41 A81.50,81.50 0 1 1 89.00,180.00 L89.00,220.20 A41.30,41.30 0 1 0 124.67,240.68 Z" fill="#0869b0" stroke="#fff" stroke-width="0.3"/>
<text x="58.4" y="316.9" class="dl">362</text>
<text x="7.9" y="191.6" class="pl">(B)</text>
<text x="169" y="223.1" class="lg">No of circRNA</text>
<text x="169" y="232.9" class="lg">isoforms:</text>
<rect x="187.2" y="237.5" width="9.1" height="9.4" fill="#f0f9e8"/>
<rect x="187.2" y="246.9" width="9.1" height="9.4" fill="#bae4bc"/>
<rect x="187.2" y="256.3" width="9.1" height="9.4" fill="#7bccc4"/>
<rect x="187.2" y="265.7" width="9.1" height="9.4" fill="#43a2ca"/>
<rect x="187.2" y="275.1" width="9.1" height="9.4" fill="#0869b0"/>
<text x="200.3" y="244.9" class="lg">1</text>
<text x="200.3" y="254.6" class="lg">2</text>
<text x="200.3" y="263.9" class="lg">3</text>
<text x="200.3" y="273.8" class="lg">4</text>
<text x="200.3" y="284.2" class="lg">&#8805;5</text>
<!-- Panel C -->
<line x1="297.88" y1="4.50" x2="297.88" y2="145.30" stroke="#f0f0f0" stroke-width="0.4"/>
<line x1="358.43" y1="4.50" x2="358.43" y2="145.30" stroke="#f0f0f0" stroke-width="0.4"/>
<line x1="418.98" y1="4.50" x2="418.98" y2="145.30" stroke="#f0f0f0" stroke-width="0.4"/>
<line x1="479.52" y1="4.50" x2="479.52" y2="145.30" stroke="#f0f0f0" stroke-width="0.4"/>
<line x1="267.60" y1="4.50" x2="267.60" y2="145.30" stroke="#e6e6e6" stroke-width="0.6"/>
<line x1="328.15" y1="4.50" x2="328.15" y2="145.30" stroke="#e6e6e6" stroke-width="0.6"/>
<line x1="388.70" y1="4.50" x2="388.70" y2="145.30" stroke="#e6e6e6" stroke-width="0.6"/>
<line x1="449.25" y1="4.50" x2="449.25" y2="145.30" stroke="#e6e6e6" stroke-width="0.6"/>
<line x1="509.80" y1="4.50" x2="509.80" y2="145.30" stroke="#e6e6e6" stroke-width="0.6"/>
<line x1="255.90" y1="20.75" x2="513.60" y2="20.75" stroke="#e6e6e6" stroke-width="0.6"/>
<line x1="255.90" y1="47.82" x2="513.60" y2="47.82" stroke="#e6e6e6" stroke-width="0.6"/>
<line x1="255.90" y1="74.90" x2="513.60" y2="74.90" stroke="#e6e6e6" stroke-width="0.6"/>
<line x1="255.90" y1="101.98" x2="513.60" y2="101.98" stroke="#e6e6e6" stroke-width="0.6"/>
<line x1="255.90" y1="129.05" x2="513.60" y2="129.05" stroke="#e6e6e6" stroke-width="0.6"/>
<rect x="267.60" y="8.56" width="234.50" height="24.37" fill="#cccccc" stroke="#000" stroke-opacity="0.18" stroke-width="0.6"/>
<rect x="267.60" y="35.64" width="129.00" height="24.37" fill="#b4b4b4" stroke="#000" stroke-opacity="0.18" stroke-width="0.6"/>
<rect x="267.60" y="62.72" width="20.80" height="24.37" fill="#989898" stroke="#000" stroke-opacity="0.18" stroke-width="0.6"/>
<rect x="267.60" y="89.79" width="7.40" height="24.37" fill="#737373" stroke="#000" stroke-opacity="0.18" stroke-width="0.6"/>
<rect x="267.60" y="116.87" width="5.70" height="24.37" fill="#333333" stroke="#000" stroke-opacity="0.18" stroke-width="0.6"/>
<rect x="255.90" y="4.50" width="257.70" height="140.80" fill="none" stroke="#b3b3b3" stroke-width="0.7"/>
<line x1="254.30" y1="20.75" x2="255.60" y2="20.75" stroke="#444" stroke-width="0.6"/>
<text x="254.00" y="22.55" font-size="5.0" fill="#3a3a3a" text-anchor="end">(0-5]</text>
<line x1="254.30" y1="47.82" x2="255.60" y2="47.82" stroke="#444" stroke-width="0.6"/>
<text x="254.00" y="49.62" font-size="5.0" fill="#3a3a3a" text-anchor="end">(5-15]</text>
<line x1="254.30" y1="74.90" x2="255.60" y2="74.90" stroke="#444" stroke-width="0.6"/>
<text x="254.00" y="76.70" font-size="5.0" fill="#3a3a3a" text-anchor="end">(15-25]</text>
<line x1="254.30" y1="101.98" x2="255.60" y2="101.98" stroke="#444" stroke-width="0.6"/>
<text x="254.00" y="103.78" font-size="5.0" fill="#3a3a3a" text-anchor="end">(25-50]</text>
<line x1="254.30" y1="129.05" x2="255.60" y2="129.05" stroke="#444" stroke-width="0.6"/>
<text x="254.00" y="130.85" font-size="5.0" fill="#3a3a3a" text-anchor="end">&gt;50</text>
<line x1="267.60" y1="145.60" x2="267.60" y2="146.90" stroke="#666" stroke-width="0.6"/>
<text x="267.60" y="151.80" font-size="5.4" fill="#3a3a3a" text-anchor="middle">0</text>
<line x1="328.15" y1="145.60" x2="328.15" y2="146.90" stroke="#666" stroke-width="0.6"/>
<text x="328.15" y="151.80" font-size="5.4" fill="#3a3a3a" text-anchor="middle">100</text>
<line x1="388.70" y1="145.60" x2="388.70" y2="146.90" stroke="#666" stroke-width="0.6"/>
<text x="388.70" y="151.80" font-size="5.4" fill="#3a3a3a" text-anchor="middle">200</text>
<line x1="449.25" y1="145.60" x2="449.25" y2="146.90" stroke="#666" stroke-width="0.6"/>
<text x="449.25" y="151.80" font-size="5.4" fill="#3a3a3a" text-anchor="middle">300</text>
<line x1="509.80" y1="145.60" x2="509.80" y2="146.90" stroke="#666" stroke-width="0.6"/>
<text x="509.80" y="151.80" font-size="5.4" fill="#3a3a3a" text-anchor="middle">400</text>
<text x="225.6" y="15.9" class="pl">(C)</text>
<text x="0" y="0" class="ttl" transform="translate(231.7,71.7) rotate(-90)" text-anchor="middle" textLength="91" lengthAdjust="spacingAndGlyphs">Range of average score</text>
<text x="391" y="162.5" class="ttl" text-anchor="middle" textLength="78" lengthAdjust="spacingAndGlyphs">Number of circRNAs</text>
<!-- Panel D -->
<line x1="299.80" y1="195.20" x2="299.80" y2="303.30" stroke="#f0f0f0" stroke-width="0.4"/>
<line x1="365.40" y1="195.20" x2="365.40" y2="303.30" stroke="#f0f0f0" stroke-width="0.4"/>
<line x1="431.00" y1="195.20" x2="431.00" y2="303.30" stroke="#f0f0f0" stroke-width="0.4"/>
<line x1="496.60" y1="195.20" x2="496.60" y2="303.30" stroke="#f0f0f0" stroke-width="0.4"/>
<line x1="267.00" y1="195.20" x2="267.00" y2="303.30" stroke="#e6e6e6" stroke-width="0.6"/>
<line x1="332.60" y1="195.20" x2="332.60" y2="303.30" stroke="#e6e6e6" stroke-width="0.6"/>
<line x1="398.20" y1="195.20" x2="398.20" y2="303.30" stroke="#e6e6e6" stroke-width="0.6"/>
<line x1="463.80" y1="195.20" x2="463.80" y2="303.30" stroke="#e6e6e6" stroke-width="0.6"/>
<line x1="254.90" y1="204.21" x2="515.40" y2="204.21" stroke="#e6e6e6" stroke-width="0.6"/>
<line x1="254.90" y1="219.22" x2="515.40" y2="219.22" stroke="#e6e6e6" stroke-width="0.6"/>
<line x1="254.90" y1="234.24" x2="515.40" y2="234.24" stroke="#e6e6e6" stroke-width="0.6"/>
<line x1="254.90" y1="249.25" x2="515.40" y2="249.25" stroke="#e6e6e6" stroke-width="0.6"/>
<line x1="254.90" y1="264.26" x2="515.40" y2="264.26" stroke="#e6e6e6" stroke-width="0.6"/>
<line x1="254.90" y1="279.28" x2="515.40" y2="279.28" stroke="#e6e6e6" stroke-width="0.6"/>
<line x1="254.90" y1="294.29" x2="515.40" y2="294.29" stroke="#e6e6e6" stroke-width="0.6"/>
<rect x="267.00" y="197.45" width="236.90" height="13.51" fill="#333333" stroke="#000" stroke-opacity="0.18" stroke-width="0.6"/>
<rect x="267.00" y="212.47" width="157.00" height="13.51" fill="#636363" stroke="#000" stroke-opacity="0.18" stroke-width="0.6"/>
<rect x="267.00" y="227.48" width="175.20" height="13.51" fill="#818181" stroke="#000" stroke-opacity="0.18" stroke-width="0.6"/>
<rect x="267.00" y="242.49" width="104.40" height="13.51" fill="#989898" stroke="#000" stroke-opacity="0.18" stroke-width="0.6"/>
<rect x="267.00" y="257.51" width="176.40" height="13.51" fill="#ababab" stroke="#000" stroke-opacity="0.18" stroke-width="0.6"/>
<rect x="267.00" y="272.52" width="6.20" height="13.51" fill="#bcbcbc" stroke="#000" stroke-opacity="0.18" stroke-width="0.6"/>
<rect x="254.90" y="195.20" width="260.50" height="108.10" fill="none" stroke="#b3b3b3" stroke-width="0.7"/>
<line x1="253.30" y1="204.21" x2="254.60" y2="204.21" stroke="#444" stroke-width="0.6"/>
<text x="252.90" y="205.76" font-size="4.3" fill="#555555" text-anchor="end">1</text>
<line x1="253.30" y1="219.22" x2="254.60" y2="219.22" stroke="#444" stroke-width="0.6"/>
<text x="252.90" y="220.77" font-size="4.3" fill="#555555" text-anchor="end">2</text>
<line x1="253.30" y1="234.24" x2="254.60" y2="234.24" stroke="#444" stroke-width="0.6"/>
<text x="252.90" y="235.78" font-size="4.3" fill="#555555" text-anchor="end">3</text>
<line x1="253.30" y1="249.25" x2="254.60" y2="249.25" stroke="#444" stroke-width="0.6"/>
<text x="252.90" y="250.80" font-size="4.3" fill="#555555" text-anchor="end">4</text>
<line x1="253.30" y1="264.26" x2="254.60" y2="264.26" stroke="#444" stroke-width="0.6"/>
<text x="252.90" y="265.81" font-size="4.3" fill="#555555" text-anchor="end">5</text>
<line x1="253.30" y1="279.28" x2="254.60" y2="279.28" stroke="#444" stroke-width="0.6"/>
<text x="252.90" y="280.83" font-size="4.3" fill="#555555" text-anchor="end">Pt</text>
<line x1="253.30" y1="294.29" x2="254.60" y2="294.29" stroke="#444" stroke-width="0.6"/>
<text x="252.90" y="295.84" font-size="4.3" fill="#555555" text-anchor="end">Mt</text>
<line x1="267.00" y1="303.60" x2="267.00" y2="304.90" stroke="#666" stroke-width="0.6"/>
<text x="267.00" y="308.20" font-size="4.0" fill="#555555" text-anchor="middle">0</text>
<line x1="332.60" y1="303.60" x2="332.60" y2="304.90" stroke="#666" stroke-width="0.6"/>
<text x="332.60" y="308.20" font-size="4.0" fill="#555555" text-anchor="middle">50</text>
<line x1="398.20" y1="303.60" x2="398.20" y2="304.90" stroke="#666" stroke-width="0.6"/>
<text x="398.20" y="308.20" font-size="4.0" fill="#555555" text-anchor="middle">100</text>
<line x1="463.80" y1="303.60" x2="463.80" y2="304.90" stroke="#666" stroke-width="0.6"/>
<text x="463.80" y="308.20" font-size="4.0" fill="#555555" text-anchor="middle">150</text>
<text x="225.6" y="191.6" class="pl">(D)</text>
<text x="0" y="0" class="ttl" transform="translate(237.5,253.3) rotate(-90)" text-anchor="middle" textLength="47" lengthAdjust="spacingAndGlyphs">Chromosome</text>
<text x="391" y="317.6" class="ttl" text-anchor="middle" textLength="78" lengthAdjust="spacingAndGlyphs">Number of circRNAs</text>
<!-- frame -->
<rect x="0" y="0" width="520" height="1" fill="#7a7a7a"/>
<rect x="0" y="1" width="520" height="1" fill="#4d4d4d"/>
<rect x="0" y="0" width="1" height="346" fill="#7a7a7a"/>
<rect x="1" y="1" width="1" height="344" fill="#4d4d4d"/>
<rect x="0" y="345" width="520" height="1" fill="#7a7a7a"/>
<rect x="1" y="344" width="519" height="1" fill="#4d4d4d"/>
<rect x="517" y="0" width="2" height="178" fill="#333"/>
<rect x="518" y="178" width="2" height="168" fill="#555"/>
<rect x="220" y="0" width="2" height="346" fill="#111"/>
<rect x="0" y="177" width="520" height="2" fill="#2b2b2b"/>
</svg>
</body></html>
